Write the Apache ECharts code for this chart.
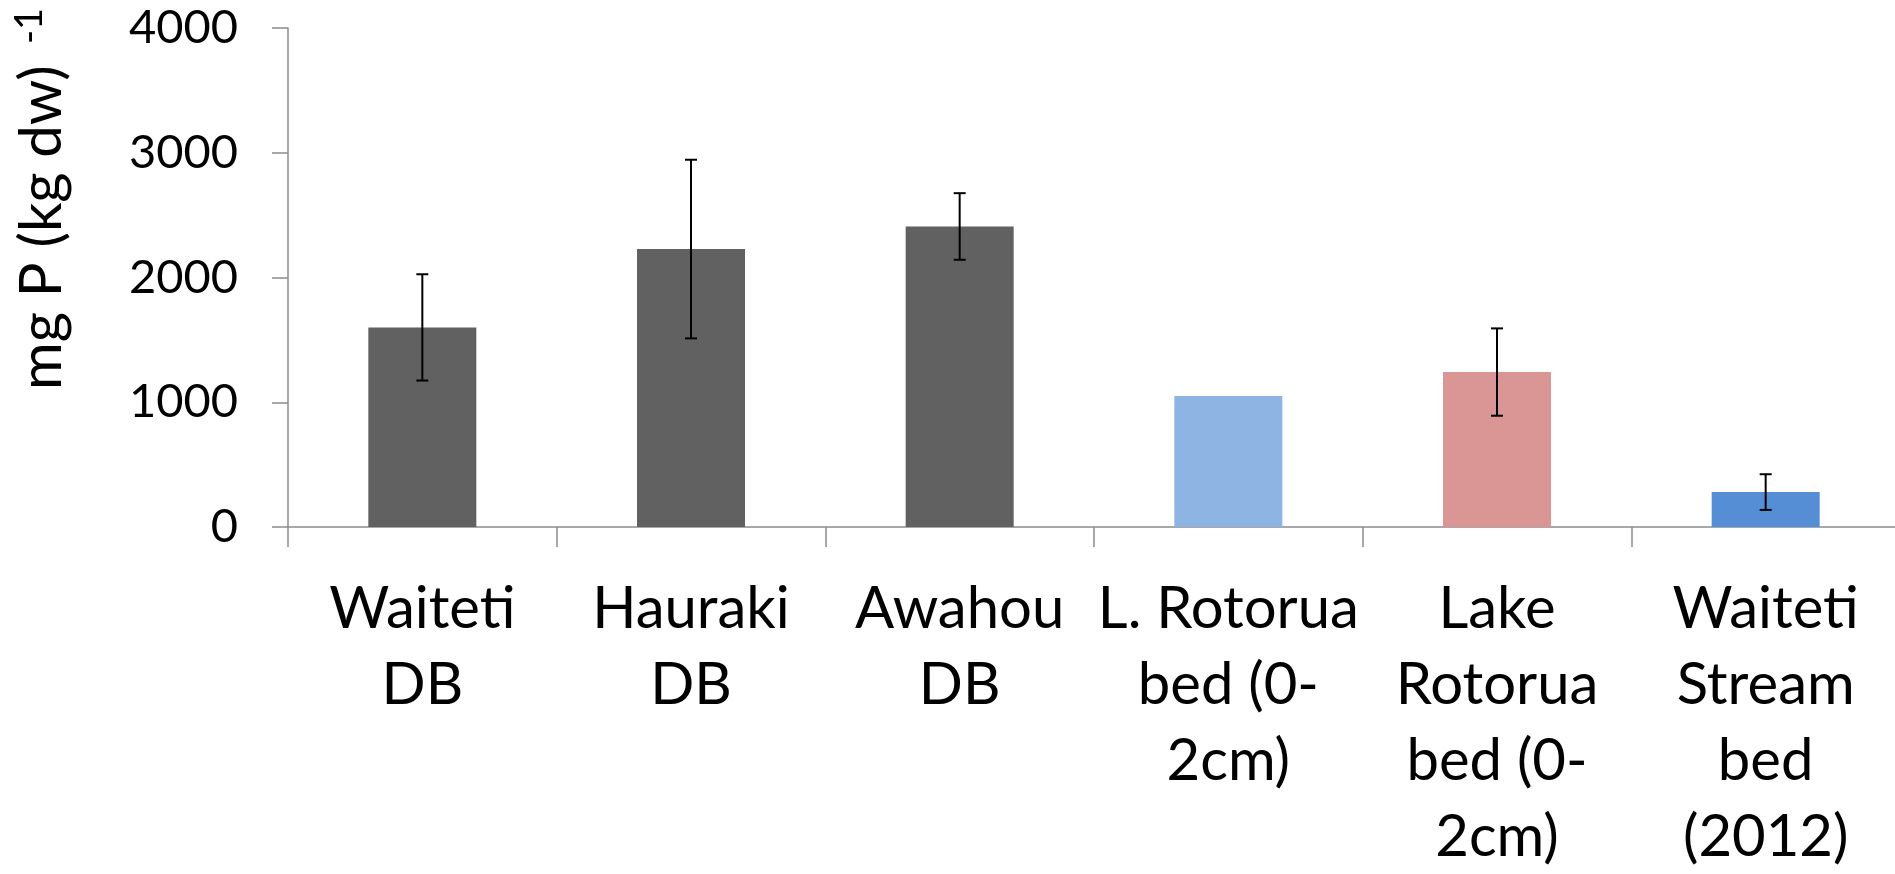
<!DOCTYPE html>
<html>
<head>
<meta charset="utf-8">
<script src="https://cdn.jsdelivr.net/npm/echarts@6/dist/echarts.min.js"></script>
<style>
  html, body { margin: 0; padding: 0; background: #ffffff; }
  #chart { width: 1895px; height: 874px; }
</style>
</head>
<body>
<div id="chart"></div>
<script>
// ---- data ----
const categories = [
  'Waiteti\nDB',
  'Hauraki\nDB',
  'Awahou\nDB',
  'L. Rotorua\nbed (0-\n2cm)',
  'Lake\nRotorua\nbed (0-\n2cm)',
  'Waiteti\nStream\nbed\n(2012)'
];
const meanValues = [1600, 2228, 2409, 1050, 1242, 280];
const errorValues = [426, 716, 267, null, 350, 143];
const yTicks = [0, 1000, 2000, 3000, 4000];
const yTitle = 'mg P (kg dw)';
const yTitleSup = '-1';

// ---- style ----
const barColors = ['#616161', '#616161', '#616161', '#8EB4E3', '#D99694', '#558ED5'];
const FONT = 'Lato, "Open Sans", sans-serif';

const errorData = [];
errorValues.forEach(function (e, i) {
  if (e !== null) errorData.push([i, meanValues[i], e]);
});

const chart = echarts.init(document.getElementById('chart'), null, { renderer: 'canvas' });

chart.setOption({
  animation: false,
  backgroundColor: '#ffffff',
  grid: { left: 288, top: 28, width: 1612, height: 499, containLabel: false, outerBoundsMode: 'none' },
  graphic: [
    {
      type: 'text',
      x: 42,
      y: 390,
      rotation: Math.PI / 2,
      silent: true,
      style: {
        text: yTitle,
        fill: '#000000',
        fontFamily: FONT,
        fontSize: 58,
        textAlign: 'left',
        textVerticalAlign: 'middle',
        align: 'left',
        verticalAlign: 'middle'
      }
    },
    {
      type: 'text',
      x: 30,
      y: 44,
      rotation: Math.PI / 2,
      silent: true,
      style: {
        text: yTitleSup,
        fill: '#000000',
        fontFamily: FONT,
        fontSize: 38,
        textAlign: 'left',
        textVerticalAlign: 'middle',
        align: 'left',
        verticalAlign: 'middle'
      }
    }
  ],
  xAxis: {
    type: 'category',
    data: categories,
    boundaryGap: true,
    axisLine: { show: true, lineStyle: { color: '#8c8c8c', width: 1.5 } },
    axisTick: { show: true, length: 20, interval: 0, lineStyle: { color: '#8c8c8c', width: 1.5 } },
    axisLabel: {
      interval: 0,
      color: '#000000',
      fontFamily: FONT,
      fontSize: 58,
      lineHeight: 76,
      margin: 44,
      align: 'center'
    },
    splitLine: { show: false }
  },
  yAxis: {
    type: 'value',
    min: yTicks[0],
    max: yTicks[yTicks.length - 1],
    interval: 1000,
    axisLine: { show: true, lineStyle: { color: '#8c8c8c', width: 1.5 } },
    axisTick: { show: true, length: 16, inside: false, lineStyle: { color: '#8c8c8c', width: 1.5 } },
    axisLabel: {
      color: '#000000',
      fontFamily: FONT,
      fontSize: 47,
      margin: 50,
      formatter: function (v) { return String(v); }
    },
    splitLine: { show: false }
  },
  series: [
    {
      type: 'bar',
      data: meanValues.map(function (v, i) {
        return { value: v, itemStyle: { color: barColors[i] } };
      }),
      barWidth: 108
    },
    {
      type: 'custom',
      data: errorData,
      encode: { x: 0, y: 1 },
      z: 10,
      renderItem: function (params, api) {
        const idx = api.value(0);
        const m = api.value(1);
        const e = api.value(2);
        const top = api.coord([idx, m + e]);
        const bot = api.coord([idx, m - e]);
        const half = 6;
        const style = { stroke: '#000000', lineWidth: 2 };
        return {
          type: 'group',
          children: [
            { type: 'line', shape: { x1: top[0], y1: top[1], x2: bot[0], y2: bot[1] }, style: style },
            { type: 'line', shape: { x1: top[0] - half, y1: top[1], x2: top[0] + half, y2: top[1] }, style: style },
            { type: 'line', shape: { x1: bot[0] - half, y1: bot[1], x2: bot[0] + half, y2: bot[1] }, style: style }
          ]
        };
      }
    }
  ]
});
</script>
</body>
</html>
